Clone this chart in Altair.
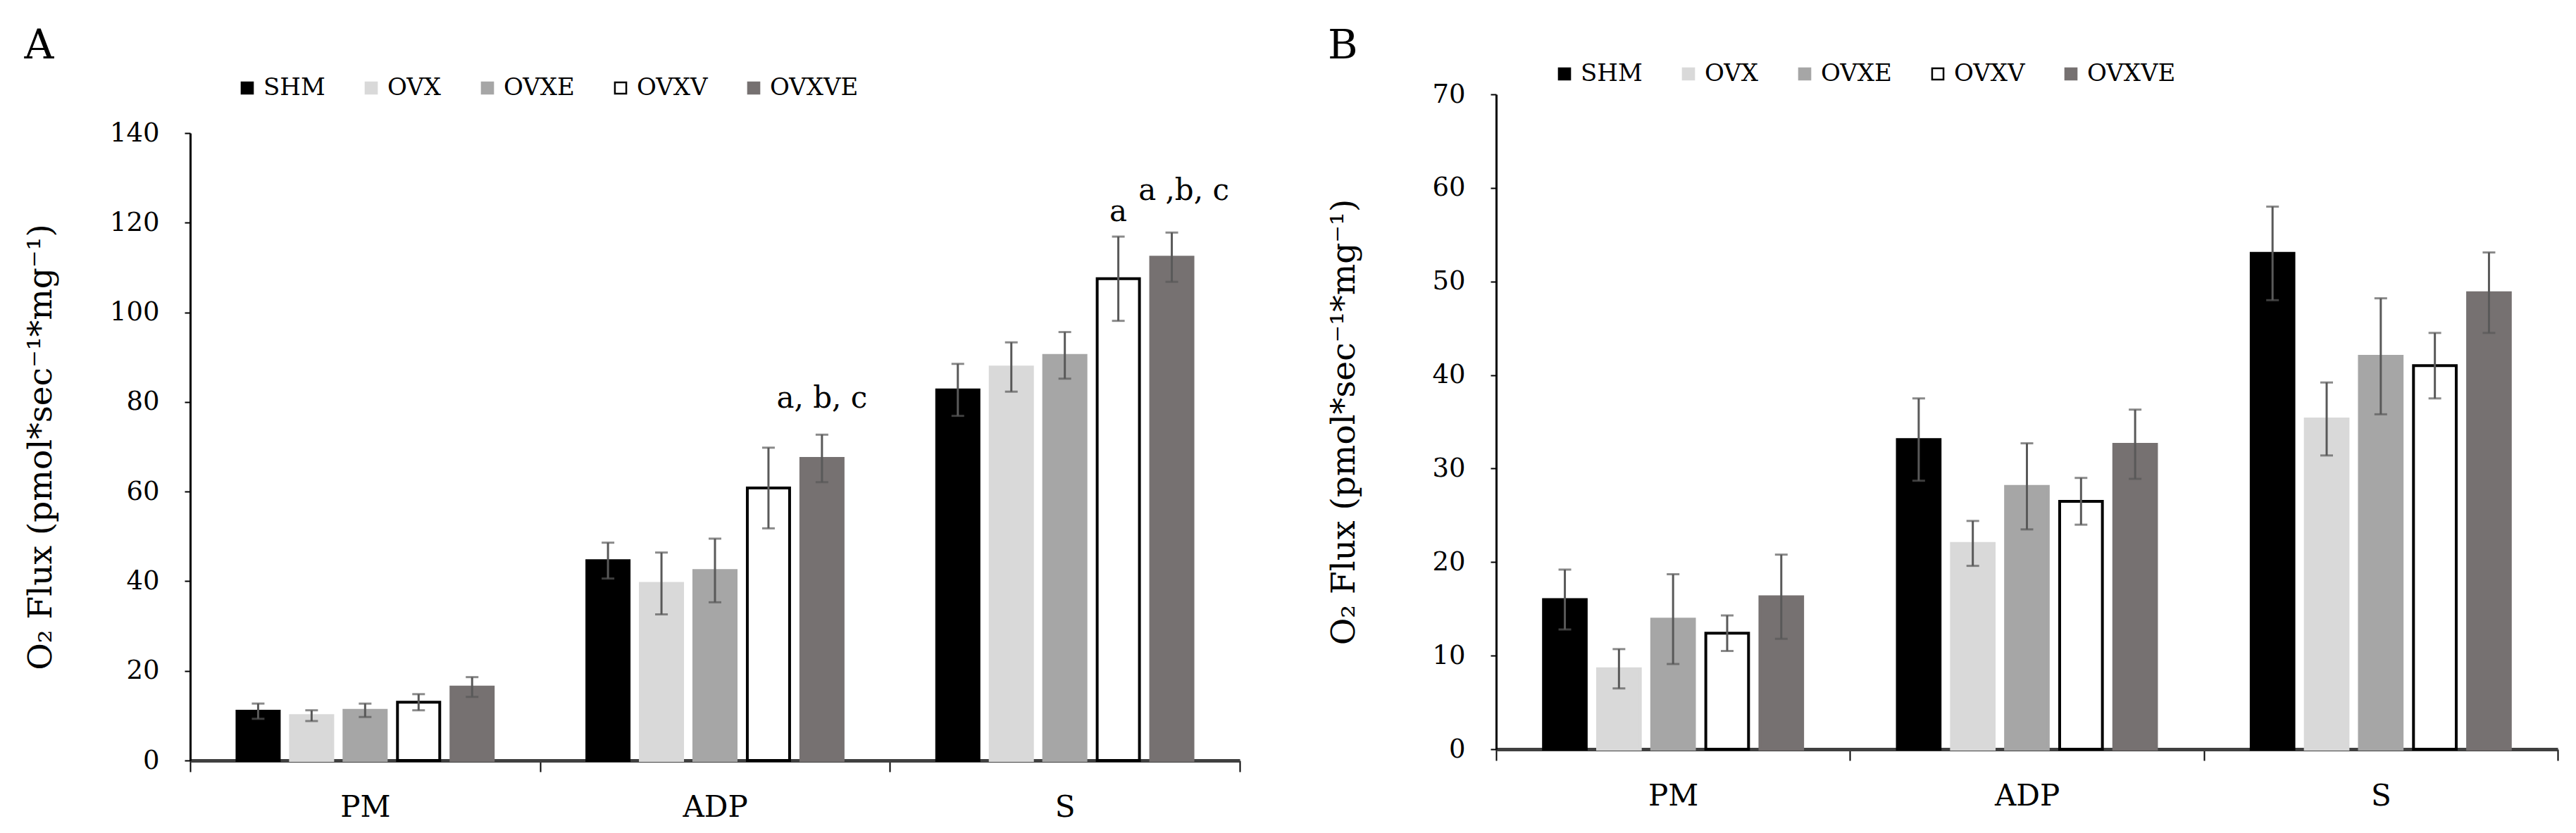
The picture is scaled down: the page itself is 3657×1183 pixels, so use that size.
import altair as alt
import pandas as pd

categories = ["PM", "ADP", "S"]
groups = ["SHM", "OVX", "OVXE", "OVXV", "OVXVE"]
fill_colors = ["#000000", "#d9d9d9", "#a6a6a6", "#ffffff", "#767171"]
stroke_colors = ["#000000", "#d9d9d9", "#a6a6a6", "#000000", "#767171"]

# Panel A: means and error (per category, per group)
a_pm = [11.0, 10.0, 11.2, 13.0, 16.4]
a_adp = [44.6, 39.5, 42.4, 60.8, 67.4]
a_s = [82.7, 87.8, 90.4, 107.5, 112.3]
a_pm_err = [1.7, 1.2, 1.5, 1.8, 2.2]
a_adp_err = [4.0, 6.9, 7.1, 9.0, 5.3]
a_s_err = [5.8, 5.5, 5.2, 9.4, 5.5]

# Panel B
b_pm = [16.0, 8.6, 13.9, 12.4, 16.3]
b_adp = [33.1, 22.0, 28.1, 26.5, 32.6]
b_s = [53.0, 35.3, 42.0, 41.0, 48.8]
b_pm_err = [3.2, 2.1, 4.8, 1.9, 4.5]
b_adp_err = [4.4, 2.4, 4.6, 2.5, 3.7]
b_s_err = [5.0, 3.9, 6.2, 3.5, 4.3]

# significance labels (panel A)
ann_cat = ["ADP", "S", "S"]
ann_group = ["OVXVE", "OVXV", "OVXVE"]
ann_text = ["a, b, c", "a", "a ,b, c"]

a_ticks = [0, 20, 40, 60, 80, 100, 120, 140]
b_ticks = [0, 10, 20, 30, 40, 50, 60, 70]

y_title = "O\u2082 Flux (pmol*sec\u207b\u00b9*mg\u207b\u00b9)"
FONT = "DejaVu Serif"
ERR = "#595959"


def make_df(means, errs):
    rows = []
    for cat, mvals, evals in zip(categories, means, errs):
        for g, m, e in zip(groups, mvals, evals):
            rows.append({"cat": cat, "group": g, "mean": m, "lo": m - e, "hi": m + e})
    return pd.DataFrame(rows)


def legend_def(lx, ly):
    return alt.Legend(title=None, orient="none", legendX=lx, legendY=ly,
                      direction="horizontal", symbolType="square", symbolSize=260,
                      symbolStrokeWidth=2.5, labelFont=FONT, labelFontSize=34,
                      labelColor="#000000", labelOffset=6, columnPadding=48)


def panel(df, letter, yscale, ticks, width, height, legend_x, legend_y,
          title_pad, title_offset, ann=None):
    x_enc = alt.X("cat:N", sort=categories, title=None,
                  scale=alt.Scale(paddingInner=0, paddingOuter=0),
                  axis=alt.Axis(labelFont=FONT, labelFontSize=42, labelColor="#000000",
                                labelAngle=0, labelPadding=30, tickBand="extent",
                                tickSize=16, tickColor="#000000", tickWidth=2,
                                domainColor="#404040", domainWidth=5))
    xo_enc = alt.XOffset("group:N", sort=groups,
                         scale=alt.Scale(paddingInner=0.21, paddingOuter=0.875))
    yaxis = alt.Axis(values=ticks, grid=False, labelFont=FONT, labelFontSize=37,
                     labelColor="#000000", labelPadding=36, tickSize=8,
                     tickColor="#000000", tickWidth=2, domainColor="#000000",
                     domainWidth=3, titleFont=FONT, titleFontSize=47,
                     titleFontWeight="normal", titleColor="#000000",
                     titlePadding=title_pad)
    base = alt.Chart(df).encode(x=x_enc, xOffset=xo_enc)

    bars = base.mark_bar(strokeWidth=4).encode(
        y=alt.Y("mean:Q", scale=yscale, title=y_title, axis=yaxis),
        fill=alt.Fill("group:N", sort=groups,
                      scale=alt.Scale(domain=groups, range=fill_colors),
                      legend=legend_def(legend_x, legend_y)),
        stroke=alt.Stroke("group:N", sort=groups,
                          scale=alt.Scale(domain=groups, range=stroke_colors),
                          legend=legend_def(legend_x, legend_y)),
    )
    rule = base.mark_rule(color=ERR, strokeWidth=3).encode(
        y=alt.Y("lo:Q", scale=yscale, title=y_title, axis=yaxis), y2="hi:Q")
    cap_hi = base.mark_tick(color=ERR, thickness=3, size=18).encode(
        y=alt.Y("hi:Q", scale=yscale, title=y_title, axis=yaxis))
    cap_lo = base.mark_tick(color=ERR, thickness=3, size=18).encode(
        y=alt.Y("lo:Q", scale=yscale, title=y_title, axis=yaxis))
    layers = [bars, rule, cap_hi, cap_lo]
    if ann is not None:
        for (c, g, t, dx, dy) in ann:
            sub = df[(df["cat"] == c) & (df["group"] == g)].copy()
            sub["label"] = t
            txt = alt.Chart(sub).mark_text(font=FONT, fontSize=42, color="#000000",
                                           baseline="alphabetic", dx=dx, dy=dy).encode(
                x=x_enc, xOffset=xo_enc,
                y=alt.Y("hi:Q", scale=yscale, title=y_title, axis=yaxis),
                text="label:N")
            layers.append(txt)
    return alt.layer(*layers).properties(
        width=width, height=height,
        title=alt.TitleParams(letter, anchor="start", frame="bounds", font=FONT,
                              fontSize=58, fontWeight="normal", color="#000000",
                              offset=title_offset))


df_a = make_df([a_pm, a_adp, a_s], [a_pm_err, a_adp_err, a_s_err])
df_b = make_df([b_pm, b_adp, b_s], [b_pm_err, b_adp_err, b_s_err])

ann = [(c, g, t, dx, dy) for (c, g, t), dx, dy in
       zip(zip(ann_cat, ann_group, ann_text), [0, 0, 17], [-38, -22, -46])]

# panel A's axis starts lower than panel B's: its scale range leaves room on top
scale_a = alt.Scale(domain=[0, 140], range=[946, 55], nice=False)
scale_b = alt.Scale(domain=[0, 70], nice=False)

pa = panel(df_a, "A", scale_a, a_ticks, 1490, 946, 64, -26, 73, 13, ann)
pb = panel(df_b, "B", scale_b, b_ticks, 1507, 930, 80, -46, 100, -7)

chart = alt.hconcat(pa, pb, spacing=123).resolve_scale(
    fill="independent", stroke="independent", y="independent", x="independent",
    xOffset="independent").resolve_legend(fill="independent", stroke="independent").configure_view(
    stroke=None).properties(padding={"left": 26, "top": 29, "right": 5, "bottom": 5},
                           background="#ffffff")

chart.save("out.html", embed_options={"renderer": "svg", "actions": False})
